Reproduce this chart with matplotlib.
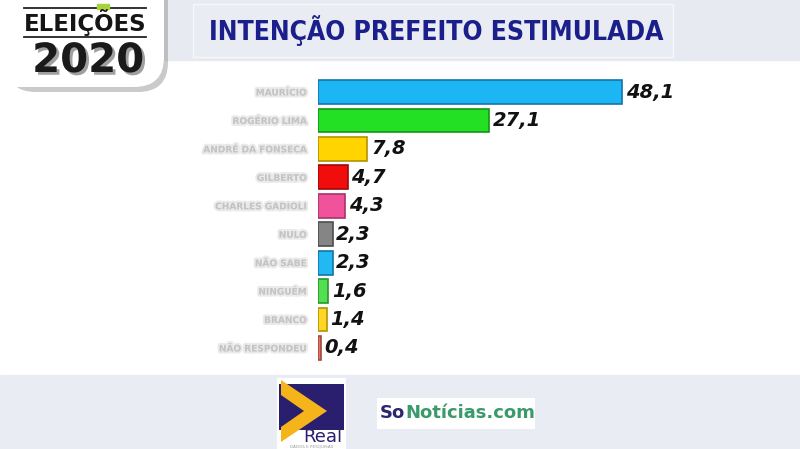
import matplotlib.pyplot as plt
import matplotlib.patheffects as pe
from matplotlib.patches import FancyBboxPatch, Rectangle, Polygon

# data (names are blurred in the source, placeholders of similar length)
names = ['MAURÍCIO', 'ROGÉRIO LIMA', 'ANDRÉ DA FONSECA', 'GILBERTO', 'CHARLES GADIOLI',
         'NULO', 'NÃO SABE', 'NINGUÉM', 'BRANCO', 'NÃO RESPONDEU']
values = [48.1, 27.1, 7.8, 4.7, 4.3, 2.3, 2.3, 1.6, 1.4, 0.4]
bar_colors = ['#1cb6f4', '#24e024', '#ffd400', '#f20d0d', '#f0529c',
              '#858585', '#22b8f2', '#52e052', '#ffd626', '#e8735f']
edge_colors = ['#1374a8', '#169416', '#b39200', '#a00808', '#a8336a',
               '#4d4d4d', '#1374a8', '#2d942d', '#b39400', '#a04a3c']
title = 'INTENÇÃO PREFEITO ESTIMULADA'

W, H = 800, 449
fig = plt.figure(figsize=(8, 4.49), dpi=100)
fig.patch.set_facecolor('white')

# background bands
bg = fig.add_axes([0, 0, 1, 1])
bg.set_xlim(0, W)
bg.set_ylim(H, 0)
bg.axis('off')
bg.add_patch(Rectangle((0, 0), W, 60, color='#e7eaf1', zorder=0))
bg.add_patch(Rectangle((0, 375), W, 74, color='#e9ecf2', zorder=0))

# title box
bg.add_patch(Rectangle((193, 4), 480, 53, facecolor='#e9ecf3', edgecolor='#f7f8fb', lw=1, zorder=1))
bg.text(436, 31, title, ha='center', va='center', color='#1b1f8c', fontsize=19,
        fontweight='bold', family='DejaVu Sans', fontstretch='condensed', zorder=2)

# "eleições 2020" badge
bg.add_patch(FancyBboxPatch((6, -28), 162, 120, boxstyle='round,pad=0,rounding_size=30',
                            facecolor='#8a8a8a', edgecolor='none', alpha=0.45, zorder=2))
bg.add_patch(FancyBboxPatch((-30, -30), 194, 117, boxstyle='round,pad=0,rounding_size=30',
                            facecolor='white', edgecolor='none', zorder=3))
bg.plot([24, 146], [8, 8], color='#222222', lw=1.3, zorder=4)
bg.plot([24, 146], [37, 37], color='#222222', lw=1.3, zorder=4)
bg.add_patch(Rectangle((97, 4), 12, 5, color='#a8d23a', zorder=5))
bg.text(85, 23, 'ELEIÇÕES', ha='center', va='center', fontsize=16.5, fontweight='bold',
        color='#151515', family='DejaVu Sans', zorder=5)
bg.text(88, 61, '2020', ha='center', va='center', fontsize=29, fontweight='bold',
        color='#1a1a1a', family='DejaVu Sans', zorder=5,
        path_effects=[pe.withSimplePatchShadow(offset=(2, -2), shadow_rgbFace='#a0a0a0', alpha=1)])

# bottom logos
bg.add_patch(Rectangle((277, 378), 69, 71, facecolor='white', zorder=2))
bg.add_patch(Rectangle((279, 384), 65, 46, facecolor='#2a1f6e', zorder=3))
bg.add_patch(Polygon([[281, 380], [281, 442], [327, 411]], closed=True, facecolor='#f4b41a', zorder=4))
bg.add_patch(Polygon([[281, 395], [281, 427], [304, 411]], closed=True, facecolor='#2a1f6e', zorder=5))
bg.text(323, 437, 'Real', ha='center', va='center', fontsize=13, color='#2a1f6e', zorder=6)
bg.text(312, 447, 'DADOS E PESQUISAS', ha='center', va='center', fontsize=3, color='#999999', zorder=6)
bg.add_patch(Rectangle((377, 398), 158, 31, facecolor='white', zorder=2))
bg.text(380, 413, 'So', ha='left', va='center', fontsize=13, fontweight='bold', color='#2a2670', zorder=3)
bg.text(405, 413, 'Notícias.com', ha='left', va='center', fontsize=13, fontweight='bold',
        color='#3a9a6a', zorder=3)

# bar chart
ax = fig.add_axes([318 / W, 86.8 / H, 0.474, 284.4 / H])
ax.set_facecolor('none')
y = range(len(values))
ax.barh(y, values, height=0.84, color=bar_colors, edgecolor=edge_colors, linewidth=1.2, zorder=3)
ax.set_xlim(0, 60)
ax.set_ylim(len(values) - 0.5, -0.5)
for i, v in enumerate(values):
    ax.text(v + 0.6, i, f'{v:.1f}'.replace('.', ','), ha='left', va='center', fontsize=14,
            fontweight='bold', style='italic', color='#111111')
ax.set_yticks(list(y))
ax.set_yticklabels(names, fontsize=6.5, color='#c4c4c4', fontweight='bold')
for lab in ax.get_yticklabels():
    lab.set_path_effects([pe.Stroke(linewidth=3, foreground='#dcdcdc', alpha=0.6), pe.Normal()])
ax.tick_params(axis='y', length=0, pad=8)
ax.set_xticks([])
for s in ax.spines.values():
    s.set_visible(False)

fig.savefig('out.png', dpi=100, facecolor=fig.get_facecolor())
